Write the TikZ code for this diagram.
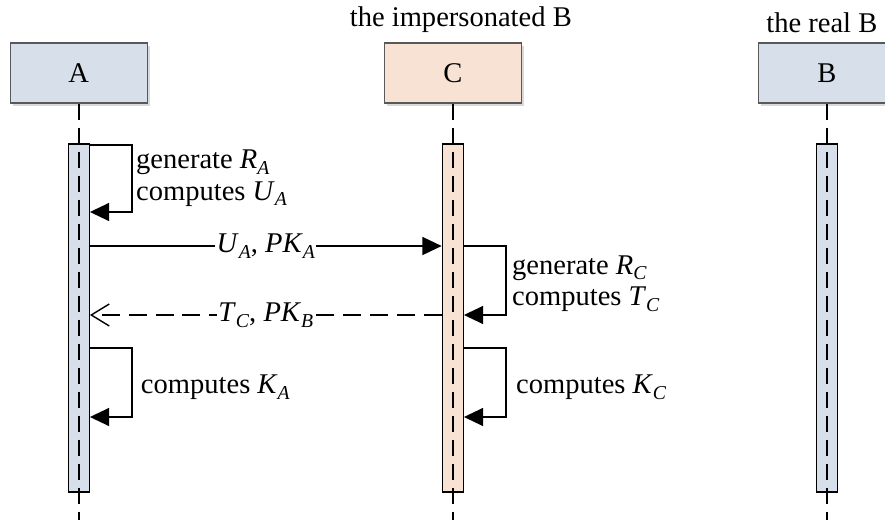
\documentclass[tikz,border=0pt]{standalone}
\usepackage{fontspec}
\setmainfont{Liberation Serif}
\usepackage{xcolor}
\usetikzlibrary{arrows.meta,positioning,shadows}
\definecolor{lightblue}{RGB}{214,223,234}
\definecolor{lightpeach}{RGB}{248,226,212}
\newcommand{\vsub}[2]{\textit{#1}\raisebox{-0.2em}{\fontsize{14}{14}\selectfont\textit{#2}}}

\begin{document}
\begin{tikzpicture}[font=\fontsize{20.3}{22.5}\selectfont,
actor/.style={draw=black!65,line width=0.8pt,minimum width=3.425cm,minimum height=1.5cm,drop shadow={opacity=0.3,shadow xshift=0.06cm,shadow yshift=-0.08cm}},
bar/.style={draw,line width=0.9pt,minimum width=0.525cm,minimum height=8.7cm,inner sep=0pt},
life/.style={line width=1.3pt,dash pattern=on 0.4cm off 0.2cm},
msg/.style={line width=1pt,-{Triangle[length=0.48cm,width=0.45cm]}},
reply/.style={line width=1pt,dash pattern=on 0.45cm off 0.22cm,-{Straight Barb[length=0.45cm,width=0.55cm]}},
lbl/.style={fill=white,inner sep=1pt}]
\useasboundingbox (0,0) rectangle (22.125,-13.225);
\clip (0,0) rectangle (22.125,-13.225);
%actors
\node[actor,fill=lightblue] (A) at (1.97,-1.825) {A};
\node[actor,fill=lightpeach] (C) at (11.32,-1.825) {C};
\node[actor,fill=lightblue] (B) at (20.67,-1.825) {B};
\node[above=0.12cm of C,xshift=0.2cm] (titleC) {the impersonated B};
\node[above=0.12cm of B,xshift=-0.125cm] (titleB) {the real B};
%activation bars
\node[bar,fill=lightblue] (barA) at (1.97,-7.95) {};
\node[bar,fill=lightpeach] (barC) at (11.32,-7.95) {};
\node[bar,fill=lightblue] (barB) at (20.67,-7.95) {};
\coordinate (bot) at (0,-13);
\foreach \n in {A,C,B}
\draw[life] (\n.south) -- (\n.south |- bot);
%message levels
\coordinate (t1) at (0,-3.625);
\coordinate (t2) at (0,-5.3);
\coordinate (t3) at (0,-6.15);
\coordinate (t4) at (0,-7.875);
\coordinate (t5) at (0,-8.7);
\coordinate (t6) at (0,-10.425);
\draw[msg] (barA.east |- t1) -- ++(1.05,0) |- (barA.east |- t2);
\node[right,align=left] (genA) at (3.28,-4.45) {generate \vsub{R}{A}\\computes \vsub{U}{A}};
\draw[msg] (barA.east |- t3) -- node[lbl] (m1) {\vsub{U}{A}, \vsub{PK}{A}} (barC.west |- t3);
\draw[msg] (barC.east |- t3) -- ++(1.05,0) |- (barC.east |- t4);
\node[right,align=left] (genC) at (12.68,-7.09) {generate \vsub{R}{C}\\computes \vsub{T}{C}};
\draw[reply] (barC.west |- t4) -- node[lbl] (m2) {\vsub{T}{C}, \vsub{PK}{B}} (barA.east |- t4);
\draw[msg] (barA.east |- t5) -- ++(1.05,0) |- (barA.east |- t6);
\node[right] (keyA) at (3.4,-9.675) {computes \vsub{K}{A}};
\draw[msg] (barC.east |- t5) -- ++(1.05,0) |- (barC.east |- t6);
\node[right] (keyC) at (12.78,-9.675) {computes \vsub{K}{C}};
\end{tikzpicture}
\end{document}
